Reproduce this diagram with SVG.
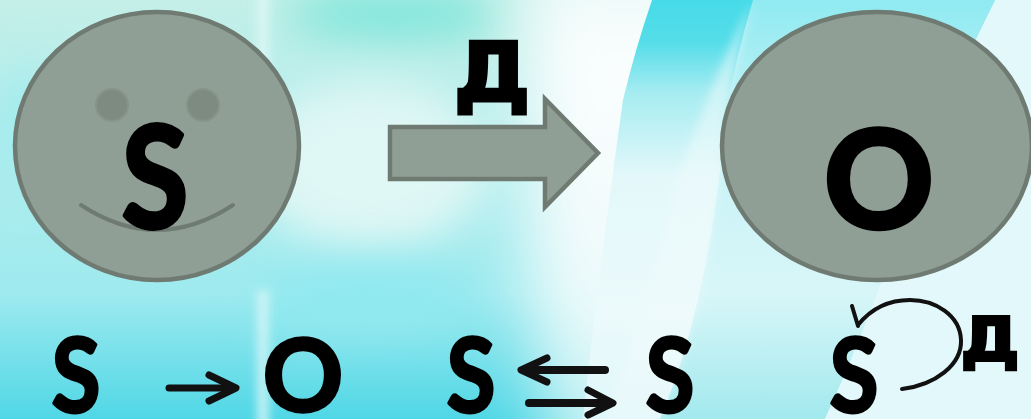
<svg xmlns="http://www.w3.org/2000/svg" width="1031" height="419" viewBox="0 0 1031 419">
<style>
.shape{fill:#909f95;stroke:#6f7b72;stroke-width:4.5}
.l{font-family:"Lato","Liberation Sans",sans-serif;font-weight:700;fill:#000;stroke:#000;stroke-linejoin:round;text-anchor:middle}
.d{font-family:"DejaVu Sans",sans-serif;font-weight:700;fill:#000;stroke:#000;text-anchor:middle}
.line{fill:none;stroke:#111;stroke-linecap:round;stroke-linejoin:round}
</style>
<defs>
<linearGradient id="base" x1="0" y1="0" x2="0" y2="1"><stop offset="0" stop-color="#c4efe8"/><stop offset=".7" stop-color="#9eeaef"/><stop offset="1" stop-color="#50d7e6"/></linearGradient>
<linearGradient id="white" x1="0" y1="0" x2="0" y2="1"><stop offset="0" stop-color="#dcf6f3"/><stop offset=".22" stop-color="#fbfefe"/><stop offset=".65" stop-color="#eefafb"/><stop offset="1" stop-color="#b4eef0"/></linearGradient>
<linearGradient id="band" x1="0" y1="0" x2="0" y2="1"><stop offset="0" stop-color="#46dbe8"/><stop offset=".1" stop-color="#55dde9"/><stop offset=".22" stop-color="#a5ecf1"/><stop offset=".42" stop-color="#e3f8fa"/><stop offset=".75" stop-color="#ecfafb"/><stop offset="1" stop-color="#dff7f9"/></linearGradient>
<linearGradient id="band2" x1="0" y1="0" x2="0" y2="1"><stop offset="0" stop-color="#8feaf1"/><stop offset=".3" stop-color="#c4f2f6"/><stop offset=".7" stop-color="#d8f6f8"/><stop offset="1" stop-color="#a2e9ee"/></linearGradient>
<filter id="b20" x="-60%" y="-150%" width="220%" height="400%"><feGaussianBlur stdDeviation="22"/></filter>
<filter id="b6" x="-100%" y="-10%" width="300%" height="120%"><feGaussianBlur stdDeviation="5"/></filter>
<filter id="b30" x="-60%" y="-30%" width="220%" height="160%"><feGaussianBlur stdDeviation="32"/></filter>
<clipPath id="page"><rect width="1031" height="419"/></clipPath>
</defs>
<g id="background" clip-path="url(#page)">
<rect width="1031" height="419" fill="url(#base)"/>
<ellipse cx="395" cy="14" rx="110" ry="26" fill="#7fe6da" filter="url(#b20)"/>
<ellipse cx="370" cy="165" rx="120" ry="85" fill="#dff7f5" filter="url(#b20)"/>
<ellipse cx="370" cy="300" rx="110" ry="35" fill="#8fe9ef" filter="url(#b20)"/>
<ellipse cx="30" cy="130" rx="40" ry="60" fill="#a4ecee" filter="url(#b20)"/>
<rect x="257" y="-20" width="12" height="160" fill="#e4f9f9" opacity=".7" filter="url(#b6)"/>
<rect x="257" y="290" width="12" height="150" fill="#d8f7f8" opacity=".8" filter="url(#b6)"/>
<path d="M530 -80H720V500H560Q510 250 530 -80Z" fill="url(#white)" filter="url(#b30)"/>
<path d="M652 0H1031V419H583Q595 300 623 100Q635 50 652 0Z" fill="url(#band)"/>
<path d="M753 0H995Q960 70 930 140Q880 300 825 419H660Q710 300 725 120Q735 60 753 0Z" fill="url(#band2)"/>
<path d="M753 0Q735 60 725 120Q710 300 660 419H605Q650 300 675 190Q710 80 753 0Z" fill="#f0fbfc" opacity=".55" filter="url(#b6)"/>
<path d="M995 0H1031V419H825Q880 300 930 140Q960 70 995 0Z" fill="#e3f8fa"/>
</g>
<g id="subject-face">
<ellipse class="shape" cx="157" cy="146" rx="142" ry="134"/>
<circle cx="112" cy="105" r="16" fill="#7d8b81" stroke="#86948a" stroke-width="2"/>
<circle cx="203" cy="105" r="16" fill="#7d8b81" stroke="#86948a" stroke-width="2"/>
<path d="M81 205Q157 255 233 205" fill="none" stroke="#6f7b72" stroke-width="4" stroke-linecap="round"/>
<text class="l" transform="translate(155 228) scale(.86 1)" font-size="142" stroke-width="4">S</text>
</g>
<g id="object-oval">
<ellipse class="shape" cx="877" cy="146" rx="155" ry="134"/>
<text class="l" transform="translate(879 227.5)" font-size="136" stroke-width="4.5">O</text>
</g>
<g id="connectors">
<path class="shape" d="M390 127H545V99L598 153L545 207V179H390Z"/>
<path class="line" stroke-width="7" d="M169 388H232"/>
<path class="line" stroke-width="7" d="M209 375L236 388L209 401"/>
<path class="line" stroke-width="8" d="M605 370H524"/>
<path class="line" stroke-width="7" d="M547 358L521 370L547 382"/>
<path class="line" stroke-width="8" d="M529 403H610"/>
<path class="line" stroke-width="7" d="M588 390L613 403L588 415"/>
<path class="line" stroke-width="4" d="M902 389C935 385 962 365 961 340C960 315 935 300 910 300C888 300 870 310 858 325M852 306L858 326"/>
</g>
<g id="labels">
<text class="d" transform="translate(492 100.5) scale(1.05 1)" font-size="82" stroke-width="3">Д</text>
<text class="l" transform="translate(76 411.5) scale(.86 1)" font-size="104" stroke-width="3">S</text>
<text class="l" transform="translate(303 410.5)" font-size="99" stroke-width="3.5">O</text>
<text class="l" transform="translate(471 411.5) scale(.86 1)" font-size="104" stroke-width="3">S</text>
<text class="l" transform="translate(670 411.5) scale(.86 1)" font-size="104" stroke-width="3">S</text>
<text class="l" transform="translate(854 411.5) scale(.86 1)" font-size="104" stroke-width="3">S</text>
<text class="d" transform="translate(990 360) scale(1.09 1)" font-size="61" stroke-width="2.5">Д</text>
</g>
</svg>
